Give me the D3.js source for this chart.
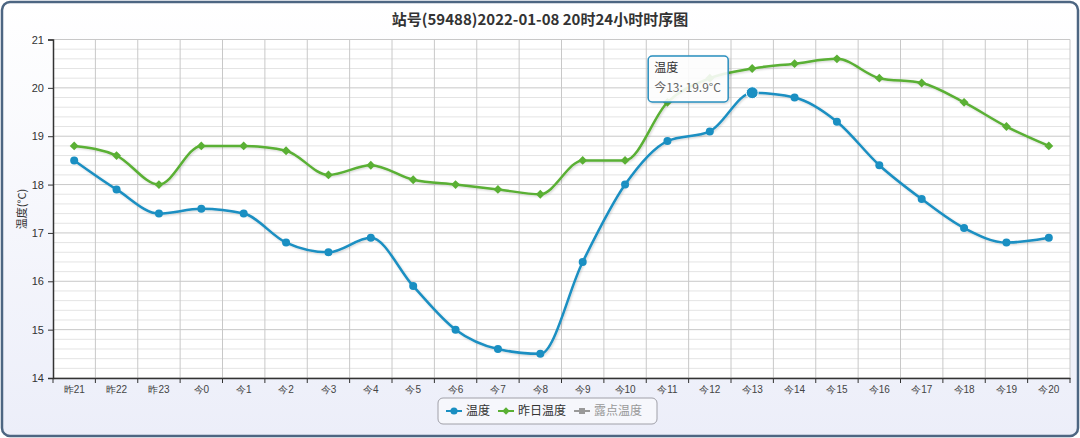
<!DOCTYPE html>
<html><head><meta charset="utf-8">
<script src="https://cdn.jsdelivr.net/npm/d3@7"></script>
<style>
html,body{margin:0;padding:0;background:#fff;}
svg{display:block;font-family:"Noto Sans CJK SC","Noto Sans",sans-serif;}
</style></head>
<body><svg id="c" width="1080" height="438"></svg>
<script>
const categories = ["昨21","昨22","昨23","今0","今1","今2","今3","今4","今5","今6","今7","今8","今9","今10","今11","今12","今13","今14","今15","今16","今17","今18","今19","今20"];
const temperature = [18.5,17.9,17.4,17.5,17.4,16.8,16.6,16.9,15.9,15.0,14.6,14.5,16.4,18.0,18.9,19.1,19.9,19.8,19.3,18.4,17.7,17.1,16.8,16.9];
const yesterdayTemp = [18.8,18.6,18.0,18.8,18.8,18.7,18.2,18.4,18.1,18.0,17.9,17.8,18.5,18.5,19.7,20.2,20.4,20.5,20.6,20.2,20.1,19.7,19.2,18.8];
const yTicks = [14,15,16,17,18,19,20,21];
const title = "站号(59488)2022-01-08 20时24小时时序图";
const yTitle = "温度(°C)";
const legendNames = ["温度","昨日温度","露点温度"];
const tooltipIndex = 16;

const svg = d3.select("#c");
const defs = svg.append("defs");
const bg = defs.append("linearGradient").attr("id","bg").attr("x1",0).attr("y1",0).attr("x2",0).attr("y2",1);
bg.append("stop").attr("offset","0%").attr("stop-color","#ffffff");
bg.append("stop").attr("offset","100%").attr("stop-color","#eceef9");
const f = defs.append("filter").attr("id","sh").attr("x","-5%").attr("y","-5%").attr("width","110%").attr("height","120%");
f.append("feDropShadow").attr("dx",1).attr("dy",1).attr("stdDeviation",1.2).attr("flood-color","#000").attr("flood-opacity",0.18);

svg.append("rect").attr("x",2).attr("y",2).attr("width",1076).attr("height",434).attr("rx",8)
  .attr("fill","url(#bg)").attr("stroke","#4d6682").attr("stroke-width",2.5);

const L=53,R=1070,T=39.5,B=378;
svg.append("rect").attr("x",L).attr("y",T).attr("width",R-L).attr("height",B-T).attr("fill","#fff");

const x = d3.scaleBand().domain(categories).range([L,R]);
const y = d3.scaleLinear().domain([14,21]).range([B,T]);

// minor grid
const minor = d3.range(14,21.001,0.2).map(v=>+v.toFixed(1));
svg.append("g").selectAll("line").data(minor).join("line")
  .attr("x1",L).attr("x2",R).attr("y1",d=>y(d)).attr("y2",d=>y(d))
  .attr("stroke",d=>Number.isInteger(d)?"#c8c8c8":"#e4e4e4").attr("stroke-width",1);
// vertical grid
svg.append("g").selectAll("line").data(d3.range(1,categories.length+1)).join("line")
  .attr("x1",i=>L+x.step()*i).attr("x2",i=>L+x.step()*i)
  .attr("y1",T).attr("y2",B).attr("stroke","#c8c8c8");
svg.append("line").attr("x1",L).attr("x2",R).attr("y1",T).attr("y2",T).attr("stroke","#c8c8c8");

// axes
const yAxis = d3.axisLeft(y).tickValues(yTicks).tickSize(5).tickPadding(4).tickFormat(d3.format("d"));
const gy = svg.append("g").attr("transform",`translate(${L},0)`).call(yAxis);
gy.select(".domain").attr("stroke","#333").attr("stroke-width",1.5);
gy.selectAll(".tick line").attr("stroke","#333");
gy.selectAll("text").attr("fill","#333").style("font-size","11px").attr("font-family","Liberation Sans, Arial, sans-serif");

const xAxis = d3.axisBottom(x).tickSize(0).tickPadding(8);
const gx = svg.append("g").attr("transform",`translate(0,${B})`).call(xAxis);
gx.select(".domain").attr("stroke","#333").attr("stroke-width",1.5);
gx.selectAll("text").attr("fill","#444").style("font-size","10px");
svg.append("g").selectAll("line").data(d3.range(categories.length+1)).join("line")
  .attr("x1",i=>L+x.step()*i).attr("x2",i=>L+x.step()*i).attr("y1",B).attr("y2",B+5).attr("stroke","#333");

// title
svg.append("text").attr("x",540).attr("y",25).attr("text-anchor","middle")
  .style("font-size","15px").style("font-weight","bold").attr("fill","#333").text(title);
svg.append("text").attr("transform","translate(26,209) rotate(-90)").attr("text-anchor","middle")
  .style("font-size","11px").attr("fill","#333").text(yTitle);

const cx = d=>x(d)+x.bandwidth()/2;
const line = d3.line().curve(d3.curveMonotoneX);

const green="#5ab034", blue="#1a8fc2";
svg.append("path").attr("d",line(categories.map((c,i)=>[cx(c),y(yesterdayTemp[i])])))
  .attr("fill","none").attr("stroke",green).attr("stroke-width",2.5).attr("filter","url(#sh)");
svg.append("g").selectAll("path").data(categories).join("path")
  .attr("transform",(c,i)=>`translate(${cx(c)},${y(yesterdayTemp[i])})`)
  .attr("d",d3.symbol(d3.symbolDiamond2,50)).attr("fill",green);

svg.append("path").attr("d",line(categories.map((c,i)=>[cx(c),y(temperature[i])])))
  .attr("fill","none").attr("stroke",blue).attr("stroke-width",2.5).attr("filter","url(#sh)");
svg.append("g").selectAll("circle").data(categories).join("circle")
  .attr("cx",c=>cx(c)).attr("cy",(c,i)=>y(temperature[i])).attr("r",(c,i)=>i===tooltipIndex?6:4)
  .attr("fill",blue).attr("stroke","#fff").attr("stroke-width",(c,i)=>i===tooltipIndex?1:0);

// tooltip
const tc = cx(categories[tooltipIndex]);
const tg = svg.append("g").attr("transform",`translate(${tc-104},56)`);
tg.append("rect").attr("width",80).attr("height",46).attr("rx",4)
  .attr("fill","rgba(255,255,255,0.88)").attr("stroke","#2a8fbf").attr("stroke-width",1.5).attr("filter","url(#sh)");
tg.append("text").attr("x",6).attr("y",16).style("font-size","12px").attr("fill","#333").text("温度");
tg.append("text").attr("x",6).attr("y",36).style("font-size","12px").attr("fill","#666")
  .text(categories[tooltipIndex]+": "+temperature[tooltipIndex]+"°C");

// legend
const lg = svg.append("g").attr("transform","translate(438,398)");
lg.append("rect").attr("width",219).attr("height",26).attr("rx",5).attr("fill","#f6f7fc").attr("stroke","#a0a0a8").attr("stroke-width",1);
const items=[{n:legendNames[0],c:blue,s:"circle",t:"#333"},{n:legendNames[1],c:green,s:"diamond",t:"#333"},{n:legendNames[2],c:"#999",s:"square",t:"#999"}];
let ox=8;
items.forEach(it=>{
  const g=lg.append("g").attr("transform",`translate(${ox},13)`);
  g.append("line").attr("x1",0).attr("x2",16).attr("stroke",it.c).attr("stroke-width",2);
  const sym = it.s==="circle"?d3.symbolCircle:it.s==="diamond"?d3.symbolDiamond2:d3.symbolSquare;
  g.append("path").attr("transform","translate(8,0)").attr("d",d3.symbol(sym,it.s==="circle"?40:36)).attr("fill",it.c);
  const t=g.append("text").attr("x",20).attr("y",4).style("font-size","12px").attr("fill",it.t).text(it.n);
  ox += 20 + t.node().getComputedTextLength() + 8;
});
</script></body></html>
